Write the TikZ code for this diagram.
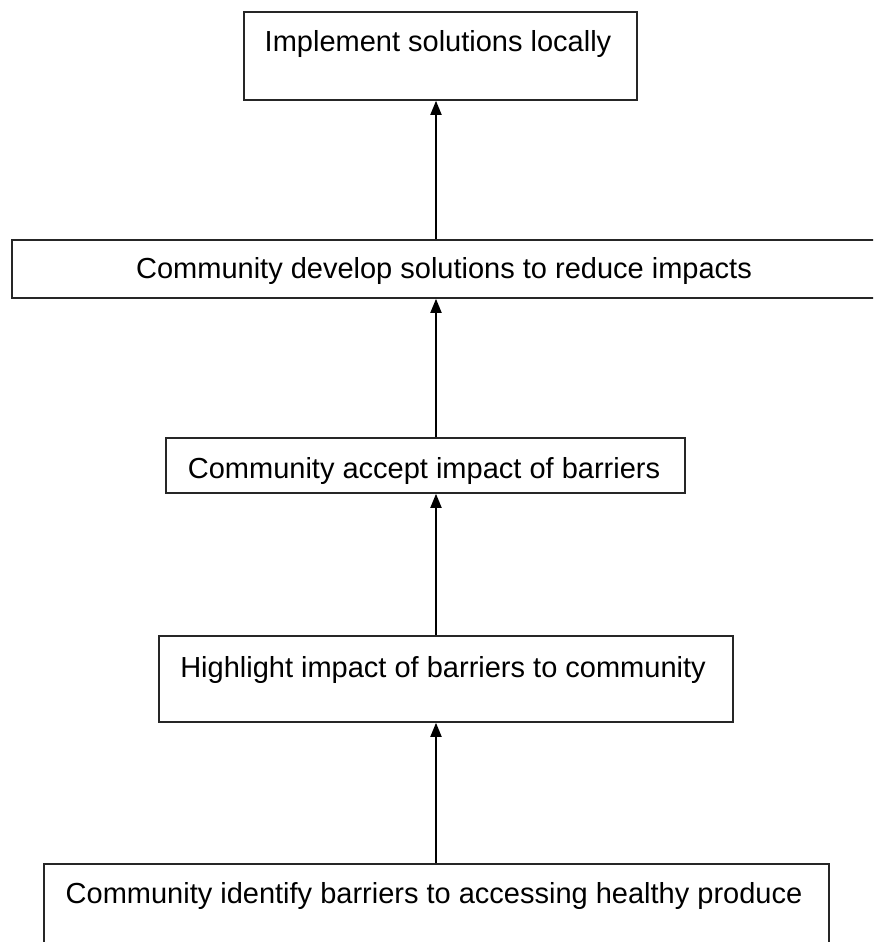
\documentclass[tikz,border=0pt]{standalone}
\usepackage{fontspec}
\setmainfont{Liberation Sans}
\usetikzlibrary{arrows.meta}
\begin{document}
\begin{tikzpicture}[x=1pt,y=-1pt,
  box/.style={draw=black!85,line width=1.8pt,inner sep=0pt,anchor=north west},
  lbl/.style={anchor=base,inner sep=0pt,font=\fontsize{29}{32}\selectfont},
  arr/.style={draw=black,line width=1.8pt,-{Triangle[width=11pt,length=14pt]}}]
\path[clip] (0,0) rectangle (873,942);
\fill[white] (0,0) rectangle (873,942);
% boxes
\node[box,minimum width=393pt,minimum height=88pt] (b1) at (243,11) {};
\node[box,minimum width=866pt,minimum height=58pt] (b2) at (11,239) {};
\node[box,minimum width=519pt,minimum height=55pt] (b3) at (165,437) {};
\node[box,minimum width=574pt,minimum height=86pt] (b4) at (158,635) {};
\node[box,minimum width=785pt,minimum height=100pt] (b5) at (43,863) {};
% labels
\node[lbl] (t1) at (438,52) {Implement solutions locally};
\node[lbl] (t2) at (444,278) {Community develop solutions to reduce impacts};
\node[lbl] (t3) at (424,478) {Community accept impact of barriers};
\node[lbl] (t4) at (443,677) {Highlight impact of barriers to community};
\node[lbl] (t5) at (434,903) {Community identify barriers to accessing healthy produce};
% arrows
\coordinate (ax) at (436,0);
\draw[arr] (ax |- b2.north) -- (ax |- b1.south);
\draw[arr] (ax |- b3.north) -- (ax |- b2.south);
\draw[arr] (ax |- b4.north) -- (ax |- b3.south);
\draw[arr] (ax |- b5.north) -- (ax |- b4.south);
\end{tikzpicture}
\end{document}
